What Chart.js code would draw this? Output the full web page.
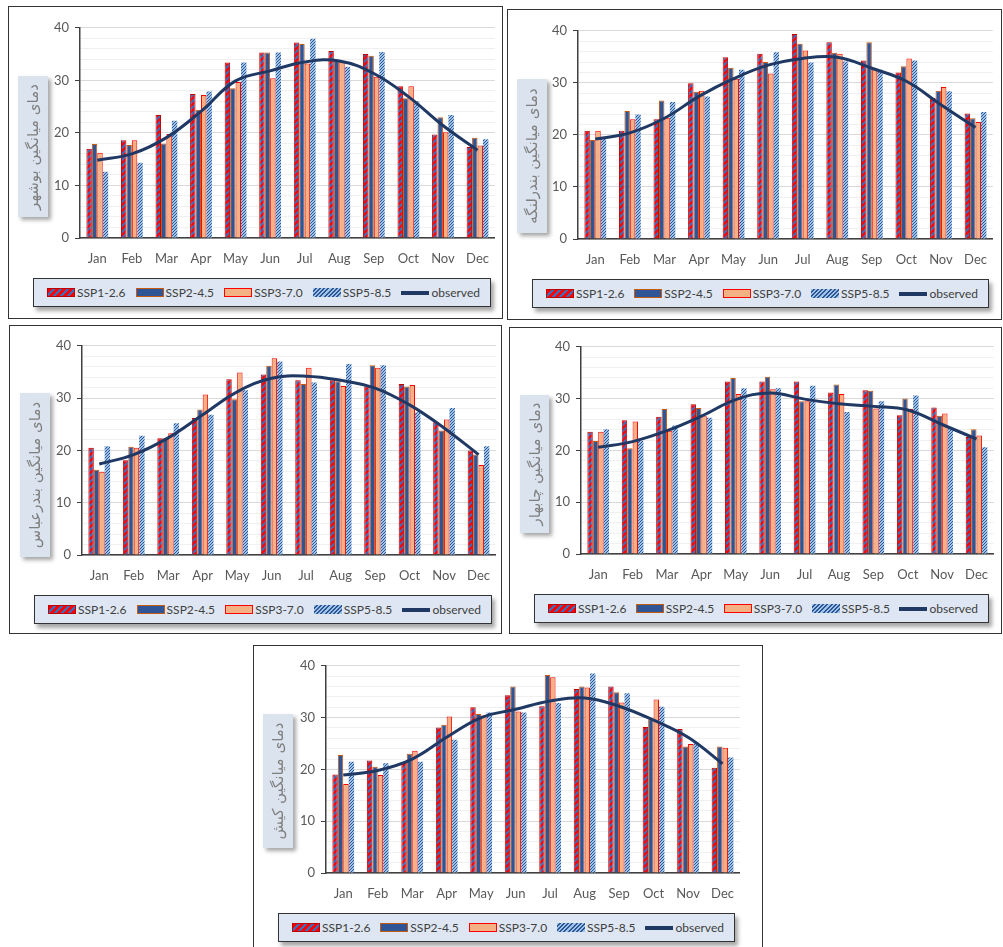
<!DOCTYPE html>
<html>
<head>
<meta charset="utf-8">
<script src="https://cdn.jsdelivr.net/npm/chart.js@4.4.1/dist/chart.umd.min.js"></script>
<style>
  html, body { margin: 0; padding: 0; background: #fff; width: 1003px; height: 947px; overflow: hidden; position: relative; }
  .panel { position: absolute; border: 1.5px solid #333; background: #fff; box-sizing: border-box; }
  .chart { position: absolute; }
  .ylab { position: absolute; background: #dbe3ee; box-shadow: 3px 3px 4px rgba(0,0,0,0.35); z-index: 2; }
  .ylab span { position: absolute; left: 50%; top: 50%; transform: translate(-50%, -50%) rotate(-90deg);
    white-space: nowrap; font-family: "DejaVu Sans", sans-serif; font-size: 15px; color: #7f7f7f; }
  .legend { position: absolute; background: #dde6f2; border: 1.5px solid #333; box-sizing: border-box;
    box-shadow: 3px 4px 4px rgba(0,0,0,0.35); display: flex; align-items: center; justify-content: space-between;
    padding: 0 10px 0 13px; font-family: Lato, sans-serif; font-size: 12px; color: #404040; z-index: 2; white-space: nowrap; }
  .item { display: flex; align-items: center; flex-shrink: 0; }
  .sw { width: 28px; height: 9px; box-sizing: border-box; margin-right: 2px; flex-shrink: 0; }
  .sw1 { background: repeating-linear-gradient(135deg, #ff0000 0 3px, #3a6fc0 3px 5px); border: 1px solid #c00000; }
  .sw2 { background: #2f5597; border: 1.5px solid #c55a11; }
  .sw3 { background: #f4b183; border: 1.5px solid #ff0000; }
  .sw4 { background: repeating-linear-gradient(135deg, #9dc3e6 0 1.5px, #2f5597 1.5px 3px); }
  .sw5 { height: 4px; background: #1f3864; }
</style>
</head>
<body>
<script>
const months = ['Jan', 'Feb', 'Mar', 'Apr', 'May', 'Jun', 'Jul', 'Aug', 'Sep', 'Oct', 'Nov', 'Dec'];
const seriesNames = ['SSP1-2.6', 'SSP2-4.5', 'SSP3-7.0', 'SSP5-8.5', 'observed'];

// Bushehr
const bushehrSsp126 = [17.0, 18.6, 23.4, 27.4, 33.4, 35.3, 37.2, 35.6, 35.0, 28.9, 19.7, 17.3];
const bushehrSsp245 = [17.9, 17.7, 18.0, 24.4, 28.5, 35.3, 36.9, 33.8, 34.7, 26.6, 23.0, 19.1];
const bushehrSsp370 = [16.2, 18.6, 19.8, 27.2, 29.7, 30.4, 33.2, 33.5, 30.7, 28.9, 20.1, 17.6];
const bushehrSsp585 = [12.6, 14.3, 22.3, 27.9, 33.4, 35.3, 37.9, 32.6, 35.4, 26.0, 23.4, 18.8];
const bushehrObs = [14.8, 16.0, 19.1, 24.1, 29.9, 31.8, 33.5, 33.7, 31.3, 26.9, 21.4, 16.7];

// Bandar Lengeh
const lengehSsp126 = [20.8, 20.8, 23.0, 29.9, 34.9, 35.6, 39.4, 37.8, 34.3, 32.0, 27.1, 24.1];
const lengehSsp245 = [19.0, 24.6, 26.6, 28.3, 32.9, 34.0, 37.5, 35.8, 37.8, 33.2, 28.5, 23.2];
const lengehSsp370 = [20.8, 23.0, 23.3, 28.5, 30.8, 31.8, 36.2, 35.6, 32.8, 34.7, 29.2, 22.5];
const lengehSsp585 = [19.4, 23.9, 26.3, 27.4, 32.5, 35.9, 33.9, 34.1, 32.5, 34.3, 28.4, 24.4];
const lengehObs = [19.2, 20.4, 23.2, 27.4, 30.8, 33.4, 34.7, 34.9, 32.8, 30.3, 25.8, 21.4];

// Bandar Abbas
const abbasSsp126 = [20.5, 18.1, 22.3, 26.2, 33.6, 34.5, 33.4, 33.4, 32.2, 32.7, 25.4, 20.0];
const abbasSsp245 = [16.3, 20.7, 22.3, 27.8, 29.8, 36.2, 32.7, 33.2, 36.3, 32.2, 23.8, 19.2];
const abbasSsp370 = [15.9, 20.5, 23.3, 30.7, 34.9, 37.6, 35.8, 32.3, 35.8, 32.5, 25.9, 17.2];
const abbasSsp585 = [20.8, 22.8, 25.2, 26.8, 31.5, 37.0, 33.0, 36.5, 36.3, 27.3, 28.1, 20.8];
const abbasObs = [17.4, 19.2, 22.4, 26.8, 31.2, 33.8, 34.2, 33.4, 31.9, 28.7, 24.3, 19.2];

// Chabahar
const chabaharSsp126 = [23.6, 25.8, 26.5, 28.9, 33.3, 33.3, 33.3, 31.2, 31.6, 26.8, 28.3, 22.6];
const chabaharSsp245 = [21.8, 20.4, 28.0, 28.2, 34.0, 34.2, 29.5, 32.7, 31.5, 30.0, 26.7, 24.1];
const chabaharSsp370 = [23.6, 25.6, 23.8, 26.6, 30.9, 31.8, 29.5, 30.9, 28.1, 28.0, 27.1, 22.9];
const chabaharSsp585 = [24.1, 21.8, 24.8, 26.3, 32.0, 32.0, 32.5, 27.4, 29.5, 30.6, 24.1, 20.6];
const chabaharObs = [20.6, 21.7, 23.8, 26.6, 29.8, 31.1, 29.9, 29.0, 28.5, 27.8, 25.0, 22.2];

// Kish
const kishSsp126 = [19.0, 21.7, 21.3, 28.1, 32.0, 34.3, 32.2, 35.5, 36.0, 28.2, 27.8, 20.3];
const kishSsp245 = [22.8, 20.5, 23.0, 28.6, 30.7, 36.0, 38.2, 36.0, 34.9, 29.7, 24.4, 24.4];
const kishSsp370 = [17.2, 18.9, 23.6, 30.2, 30.4, 31.2, 37.8, 35.8, 32.9, 33.5, 24.9, 24.2];
const kishSsp585 = [21.5, 21.2, 21.5, 25.7, 31.0, 31.0, 32.8, 38.5, 34.7, 32.1, 25.2, 22.3];
const kishObs = [18.9, 19.8, 22.0, 26.2, 30.0, 31.6, 33.2, 33.8, 32.2, 29.5, 26.2, 21.1];

const stations = [
    { title: 'دمای میانگین بوشهر', series: [bushehrSsp126, bushehrSsp245, bushehrSsp370, bushehrSsp585], obs: bushehrObs },
    { title: 'دمای میانگین بندرلنگه', series: [lengehSsp126, lengehSsp245, lengehSsp370, lengehSsp585], obs: lengehObs },
    { title: 'دمای میانگین بندرعباس', series: [abbasSsp126, abbasSsp245, abbasSsp370, abbasSsp585], obs: abbasObs },
    { title: 'دمای میانگین چابهار', series: [chabaharSsp126, chabaharSsp245, chabaharSsp370, chabaharSsp585], obs: chabaharObs },
    { title: 'دمای میانگین کیش', series: [kishSsp126, kishSsp245, kishSsp370, kishSsp585], obs: kishObs }
];

// page layout: [left, top, width, height] for panel box, y-label box and legend; plot = [left, top(40), right, bottom(0)]
const layouts = [
    { box: [8, 6, 495, 313], plot: [80, 26, 501, 238], ylab: [18, 76, 30, 141], legend: [33, 278, 458, 29] },
    { box: [507, 9, 495, 311], plot: [578, 29, 999, 239], ylab: [517, 79, 30, 154], legend: [532, 279, 457, 29] },
    { box: [9, 325, 493, 309], plot: [82, 344, 502, 555], ylab: [20, 393, 30, 164], legend: [34, 595, 458, 29] },
    { box: [509, 327, 493, 307], plot: [581, 345, 1000, 554], ylab: [520, 395, 29, 138], legend: [534, 594, 455, 29] },
    { box: [253, 645, 510, 310], plot: [326, 664, 746, 873], ylab: [263, 714, 30, 134], legend: [278, 913, 457, 29] }
];

function makePattern(bg, fg, size, lw) {
    const c = document.createElement('canvas');
    c.width = size; c.height = size;
    const g = c.getContext('2d');
    g.fillStyle = bg;
    g.fillRect(0, 0, size, size);
    g.strokeStyle = fg;
    g.lineWidth = lw;
    g.beginPath();
    g.moveTo(0, size); g.lineTo(size, 0);
    g.moveTo(-1, 1); g.lineTo(1, -1);
    g.moveTo(size - 1, size + 1); g.lineTo(size + 1, size - 1);
    g.stroke();
    return g.createPattern(c, 'repeat');
}

const pat126 = makePattern('#ff0000', '#3a6fc0', 6, 2);
const pat585 = makePattern('#9dc3e6', '#2f5597', 3, 1);

const barStyles = [
    { backgroundColor: pat126, borderColor: '#c00000', borderWidth: 1 },
    { backgroundColor: '#2f5597', borderColor: '#c55a11', borderWidth: 1 },
    { backgroundColor: '#f4b183', borderColor: '#ff0000', borderWidth: 1 },
    { backgroundColor: pat585, borderColor: '#9dc3e6', borderWidth: 0 }
];

function place(el, r) {
    el.style.left = r[0] + 'px';
    el.style.top = r[1] + 'px';
    el.style.width = r[2] + 'px';
    el.style.height = r[3] + 'px';
}

const padLeft = 46, padTop = 12, padBottom = 34;

stations.forEach((st, i) => {
    const lay = layouts[i];

    const box = document.createElement('div');
    box.className = 'panel';
    place(box, lay.box);
    document.body.appendChild(box);

    const [pl, pt, pr, pb] = lay.plot;
    const canvas = document.createElement('canvas');
    canvas.className = 'chart';
    const w = (pr - pl) + padLeft + 1;
    const h = (pb - pt) + padTop + padBottom;
    canvas.width = w; canvas.height = h;
    canvas.style.left = (pl - padLeft) + 'px';
    canvas.style.top = (pt - padTop) + 'px';
    canvas.style.width = w + 'px';
    canvas.style.height = h + 'px';
    document.body.appendChild(canvas);

    const ylab = document.createElement('div');
    ylab.className = 'ylab';
    place(ylab, lay.ylab);
    ylab.innerHTML = `<span dir="rtl">${st.title}</span>`;
    document.body.appendChild(ylab);

    const legend = document.createElement('div');
    legend.className = 'legend';
    place(legend, lay.legend);
    legend.innerHTML = seriesNames.map((name, k) => `
        <div class="item"><div class="sw sw${k + 1}"></div><span>${name}</span></div>
    `).join('');
    document.body.appendChild(legend);

    const datasets = [{
        type: 'line',
        label: seriesNames[4],
        data: st.obs,
        borderColor: '#1f3864',
        borderWidth: 3,
        tension: 0.4,
        pointRadius: 0,
        order: 0
    }];
    st.series.forEach((vals, k) => {
        datasets.push(Object.assign({
            type: 'bar',
            label: seriesNames[k],
            data: vals,
            categoryPercentage: 0.63,
            barPercentage: 1,
            order: 1
        }, barStyles[k]));
    });

    new Chart(canvas, {
        type: 'bar',
        data: { labels: months, datasets: datasets },
        options: {
            responsive: false,
            animation: false,
            devicePixelRatio: 1,
            layout: { padding: { top: padTop, right: 1, left: 0, bottom: 0 } },
            plugins: { legend: { display: false }, tooltip: { enabled: false } },
            scales: {
                x: {
                    grid: { display: false, drawTicks: false },
                    border: { color: '#404040', width: 1.5 },
                    ticks: { color: '#595959', font: { family: 'Lato', size: 13 }, padding: 13 },
                    afterFit: s => { s.height = padBottom; }
                },
                y: {
                    min: 0,
                    max: 40,
                    ticks: {
                        stepSize: 2,
                        autoSkip: false,
                        callback: v => (v % 10 === 0 ? v : ''),
                        color: '#595959',
                        font: { family: 'Lato', size: 13 },
                        padding: 6
                    },
                    grid: {
                        color: c => (c.tick.value % 10 === 0 ? '#d9d9d9' : '#f0f0f0'),
                        tickColor: c => (c.tick.value % 10 === 0 ? '#404040' : 'rgba(0,0,0,0)'),
                        tickLength: 5
                    },
                    border: { color: '#404040', width: 1.5 },
                    afterFit: s => { s.width = padLeft; }
                }
            }
        }
    });
});
</script>
</body>
</html>
